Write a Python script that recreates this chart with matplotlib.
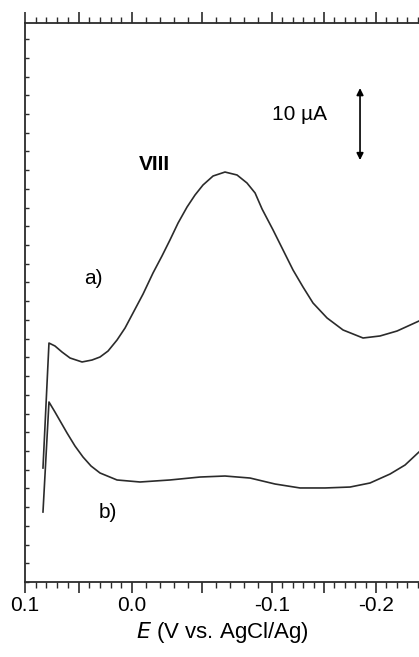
import matplotlib
matplotlib.use("Agg")
import matplotlib.pyplot as plt
import numpy as np
from matplotlib.ticker import FixedLocator, MultipleLocator, NullFormatter

plt.rcParams['font.family'] = ['Liberation Sans', 'DejaVu Sans']

# curve a) : potential (V vs AgCl/Ag) and current (uA, arbitrary offset)
E_a = [0.0832, 0.0776, 0.0720, 0.0654, 0.0579, 0.0467, 0.0374, 0.0299, 0.0224,
       0.0140, 0.0065, -0.0007, -0.0079, -0.0150, -0.0214, -0.0271, -0.0329,
       -0.0393, -0.0450, -0.0507, -0.0579, -0.0664, -0.0750, -0.0821, -0.0879,
       -0.0929, -0.1010, -0.1106, -0.1202, -0.1298, -0.1394, -0.1529, -0.1683,
       -0.1875, -0.2038, -0.2202, -0.2413]
I_a = [15.83, 33.19, 32.78, 31.94, 31.11, 30.56, 30.83, 31.25, 32.08,
       33.61, 35.28, 37.36, 40.00, 42.92, 45.28, 47.50, 49.86,
       52.08, 53.75, 55.14, 56.39, 56.94, 56.53, 55.42, 54.03,
       51.80, 48.89, 46.11, 43.33, 40.97, 38.75, 36.67, 35.00,
       33.89, 34.17, 34.86, 36.25]

# curve b)
E_b = [0.0832, 0.0776, 0.0720, 0.0607, 0.0533, 0.0458, 0.0383, 0.0299, 0.0140,
       -0.0057, -0.0271, -0.0486, -0.0664, -0.0843, -0.1029, -0.1269, -0.1510,
       -0.1750, -0.1942, -0.2135, -0.2279, -0.2413]
I_b = [9.72, 25.0, 23.61, 20.69, 18.89, 17.36, 16.11, 15.14, 14.17,
       13.89, 14.17, 14.58, 14.72, 14.44, 13.61, 13.06, 13.06,
       13.19, 13.75, 15.0, 16.25, 18.06]

tick_vals = [0.1, 0.05, 0.0, -0.05, -0.1, -0.15, -0.2]
tick_labels = ['0.1', '', '0.0', '', '-0.1', '', '-0.2']
scale_bar = 10  # uA

# the scanned axis is not quite linear, mimic it piecewise (increasing in E)
knot_negE = np.array([-0.2, -0.1, 0.0, 0.1, 0.2, 0.3])
knot_px = np.array([-82., 25., 132., 272., 376., 480.])

def fwd(E):
    return -np.interp(-np.asarray(E), knot_negE, knot_px)

def inv(p):
    return -np.interp(-np.asarray(p), knot_px, knot_negE)

fig = plt.figure(figsize=(4.19, 6.57), dpi=100)
ax = fig.add_axes([25/419, 1-582/657, 394/419, 559/657])
ax.set_xscale('function', functions=(fwd, inv))

col = '#2b2b2b'
ax.plot(E_a, I_a, color=col, lw=1.2, solid_joinstyle='round')
ax.plot(E_b, I_b, color=col, lw=1.2, solid_joinstyle='round')

ax.set_xlim(0.1, -0.2413)
ax.set_ylim(0, 77.64)

ax.xaxis.set_major_locator(FixedLocator(tick_vals))
ax.set_xticklabels(tick_labels)
ax.xaxis.set_minor_locator(FixedLocator(np.round(np.arange(-0.24, 0.1001, 0.01), 3)))
ax.tick_params(axis='x', which='both', direction='out', top=True, color=col,
               labelsize=15, pad=2)
ax.tick_params(axis='x', which='major', length=8, width=1.2)
ax.tick_params(axis='x', which='minor', length=4, width=1.0)

ax.yaxis.set_major_locator(MultipleLocator(2.6))
ax.yaxis.set_major_formatter(NullFormatter())
ax.tick_params(axis='y', direction='in', length=3, width=1, color=col)

for s in ['left', 'top', 'bottom']:
    ax.spines[s].set_color(col)
    ax.spines[s].set_linewidth(1.3)
ax.spines['right'].set_visible(False)

ax.set_xlabel(r'$E$ (V vs. AgCl/Ag)', fontsize=16, labelpad=4)

# scale bar
xb = -0.1846
ax.annotate('', xy=(xb, 58.6 + scale_bar), xytext=(xb, 58.6),
            arrowprops=dict(arrowstyle='<|-|>', color='black', lw=1.2,
                            mutation_scale=10, shrinkA=0, shrinkB=0))

fig.text(299/419, 1-115/657, '10 µA', fontsize=15, ha='center', va='center')
fig.text(154/419, 1-165/657, 'VIII', fontsize=15, fontweight='bold', ha='center', va='center')
fig.text(93/419, 1-279/657, 'a)', fontsize=15, ha='center', va='center')
fig.text(108/419, 1-513/657, 'b)', fontsize=15, ha='center', va='center')

plt.savefig('out.png', dpi=100)
